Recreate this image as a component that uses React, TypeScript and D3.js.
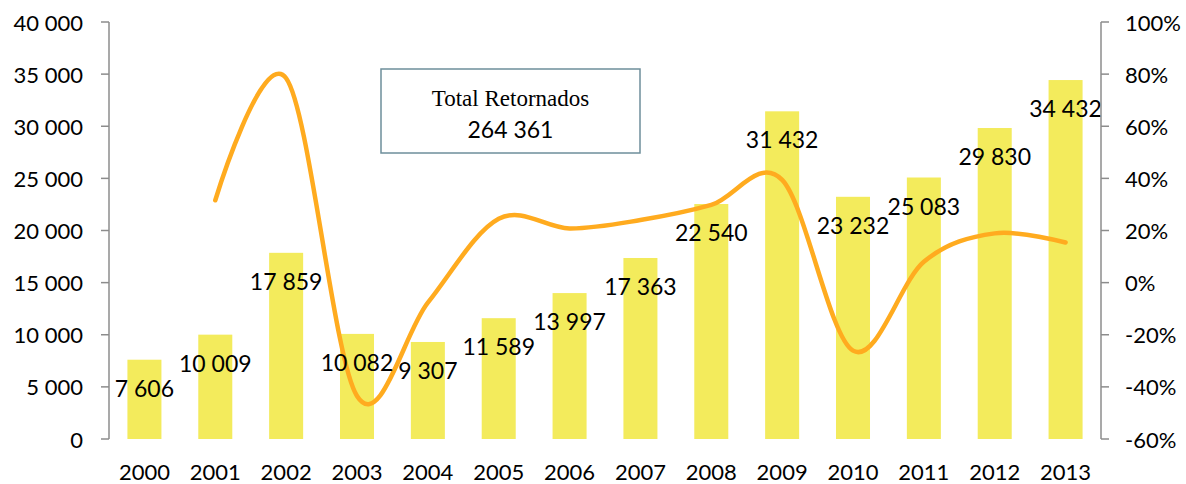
import React from "react";
import * as d3 from "d3";

const years = ["2000","2001","2002","2003","2004","2005","2006","2007","2008","2009","2010","2011","2012","2013"];
const returned = [7606,10009,17859,10082,9307,11589,13997,17363,22540,31432,23232,25083,29830,34432];
const growth = [null,0.316,0.784,-0.435,-0.077,0.245,0.208,0.240,0.298,0.394,-0.261,0.080,0.189,0.154];
const leftTicks = [0,5000,10000,15000,20000,25000,30000,35000,40000];
const rightTicks = [-0.6,-0.4,-0.2,0,0.2,0.4,0.6,0.8,1.0];
const boxTitle = "Total Retornados";
const boxValue = "264 361";

const W = 1186, H = 484;
const left = 109, right = 1101, top = 22, bottom = 439;
const font = "Lato, 'Open Sans', sans-serif";

const fmt = (v: number) => {
  const s = String(Math.round(v));
  return s.replace(/\B(?=(\d{3})+(?!\d))/g, " ");
};

export default function App() {
  const x = d3.scaleBand<string>().domain(years).range([left, right]).paddingInner(0.52).paddingOuter(0.26);
  const xc = (y: string) => (x(y) as number) + x.bandwidth() / 2;
  const yL = d3.scaleLinear().domain([0, 40000]).range([bottom, top]);
  const yR = d3.scaleLinear().domain([-0.6, 1.0]).range([bottom, top]);
  const pts = years.map((y, i) => [xc(y), growth[i]] as [number, number | null]).filter(p => p[1] !== null) as [number, number][];
  const line = d3.line<[number, number]>().x(d => d[0]).y(d => yR(d[1])).curve(d3.curveCatmullRom.alpha(0));
  const axisColor = "#8c8c8c";
  return (
    <svg width={W} height={H} style={{ display: "block", position: "absolute", left: 0, top: 0 }}>
      <rect width={W} height={H} fill="#fff" />
      {returned.map((v, i) => (
        <rect key={i} x={x(years[i])} y={yL(v)} width={x.bandwidth()} height={bottom - yL(v)} fill="#F3EB5C" />
      ))}
      <path d={line(pts) || ""} fill="none" stroke="#FFAB1F" strokeWidth={4.5} strokeLinecap="round" />
      {returned.map((v, i) => (
        <text key={i} x={xc(years[i])} y={yL(v) + 28} textAnchor="middle" dominantBaseline="central"
          fontFamily={font} fontSize={23} fill="#000">{fmt(v)}</text>
      ))}
      {/* left axis */}
      <line x1={left} x2={left} y1={top} y2={bottom} stroke={axisColor} strokeWidth={1.5} />
      {leftTicks.map(t => (
        <g key={t}>
          <line x1={left - 8} x2={left} y1={yL(t)} y2={yL(t)} stroke={axisColor} strokeWidth={1.5} />
          <text x={83} y={yL(t)} textAnchor="end" dominantBaseline="central" fontFamily={font} fontSize={22} fill="#000">{fmt(t)}</text>
        </g>
      ))}
      {/* right axis */}
      <line x1={right} x2={right} y1={top} y2={bottom} stroke={axisColor} strokeWidth={1.5} />
      {rightTicks.map(t => (
        <g key={t}>
          <line x1={right} x2={right + 8} y1={yR(t)} y2={yR(t)} stroke={axisColor} strokeWidth={1.5} />
          <text x={1125} y={yR(t)} textAnchor="start" dominantBaseline="central" fontFamily={font} fontSize={22} fill="#000">{`${Math.round(t * 100)}%`}</text>
        </g>
      ))}
      {years.map(y => (
        <text key={y} x={xc(y)} y={480} textAnchor="middle" fontFamily={font} fontSize={22} fill="#000">{y}</text>
      ))}
      <rect x={381} y={69} width={259} height={84} fill="#fff" stroke="#6E8E9B" strokeWidth={1.5} />
      <text x={510.5} y={98} textAnchor="middle" dominantBaseline="central" fontFamily="'Liberation Serif', 'DejaVu Serif', serif" fontSize={23} fill="#000">{boxTitle}</text>
      <text x={510.5} y={129} textAnchor="middle" dominantBaseline="central" fontFamily={font} fontSize={23} fill="#000">{boxValue}</text>
    </svg>
  );
}
